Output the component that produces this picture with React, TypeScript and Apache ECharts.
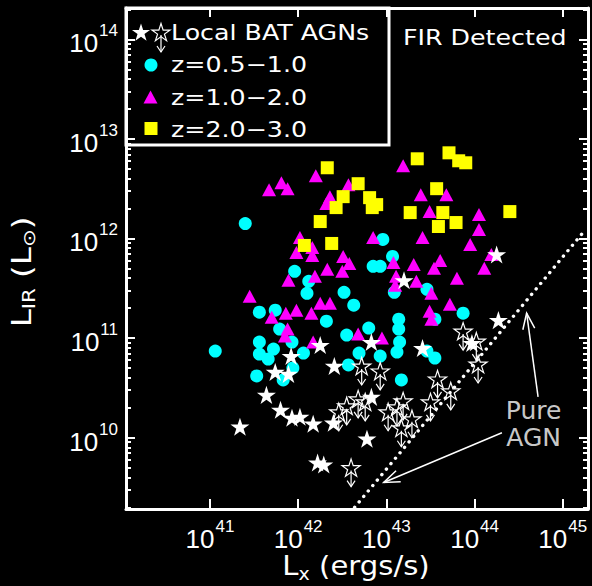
import React, { useEffect, useRef } from "react";
import * as echarts from "echarts";

// All values are log10 luminosities: [log Lx (erg/s), log LIR (Lsun)]
const z05to10: [number, number][] = [
  [41.40, 12.15], [41.96, 11.67], [42.12, 11.57], [42.10, 11.45], [42.52, 11.46],
  [42.63, 11.33], [41.56, 11.26], [41.74, 11.28], [42.32, 11.17], [41.79, 11.09],
  [41.56, 10.96], [41.93, 10.96], [41.06, 10.87], [41.56, 10.84], [41.72, 10.89],
  [41.66, 10.79], [42.06, 10.85], [41.94, 10.70], [41.53, 10.62], [41.83, 10.58],
  [42.55, 11.03], [42.57, 10.73], [42.69, 10.85], [42.96, 11.99], [43.07, 11.82],
  [42.85, 11.72], [42.93, 11.72], [43.46, 11.49], [43.09, 11.46], [43.87, 11.25],
  [43.14, 11.19], [43.14, 11.09], [42.80, 11.10], [43.15, 10.96], [43.12, 10.86],
  [42.93, 10.82], [43.17, 10.58], [43.46, 10.87], [43.55, 10.80], [43.55, 11.19],
];

const z10to20: [number, number][] = [
  [41.67, 12.49], [41.81, 12.56], [41.88, 12.50], [42.20, 12.63], [42.57, 12.54],
  [42.36, 12.42], [42.32, 12.35], [42.02, 12.01], [41.98, 11.86], [42.16, 11.91],
  [42.16, 11.83], [42.51, 11.82], [42.58, 11.75], [42.33, 11.69], [42.50, 11.67],
  [42.19, 11.62], [41.89, 11.58], [41.45, 11.42], [42.25, 11.35], [42.36, 11.35],
  [41.98, 11.28], [41.86, 11.25], [42.15, 11.25], [41.70, 11.21], [41.88, 11.09],
  [41.85, 11.02], [42.17, 10.96], [43.19, 12.73], [43.39, 12.44], [43.68, 12.44],
  [43.49, 12.27], [44.05, 12.24], [44.05, 12.09], [43.95, 11.94], [43.41, 12.01],
  [42.85, 12.01], [43.08, 11.76], [43.31, 11.74], [43.61, 11.78], [43.54, 11.70],
  [44.11, 11.70], [43.80, 11.60], [43.34, 11.57], [43.11, 11.62], [43.10, 11.53],
  [43.51, 11.45], [43.72, 11.34], [43.49, 11.27], [43.51, 11.19], [44.19, 11.84],
  [42.68, 11.04], [42.95, 11.00],
];

const z20to30: [number, number][] = [
  [42.33, 12.71], [42.68, 12.55], [42.51, 12.42], [42.81, 12.41], [42.89, 12.34],
  [42.84, 12.31], [42.43, 12.31], [42.25, 12.17], [42.38, 11.95], [42.07, 11.93],
  [43.35, 12.80], [43.71, 12.86], [43.82, 12.78], [43.90, 12.76], [43.57, 12.50],
  [43.27, 12.26], [43.64, 12.26], [43.79, 12.16], [43.59, 12.12], [44.40, 12.27],
];

const batDetected: [number, number][] = [
  [42.25, 10.93], [41.92, 10.82], [42.41, 10.72], [41.74, 10.66], [41.89, 10.64],
  [41.64, 10.43], [41.80, 10.28], [41.93, 10.20], [42.02, 10.21], [42.17, 10.14],
  [42.40, 10.15], [41.34, 10.11], [42.22, 9.75], [42.29, 9.73], [42.83, 10.96],
  [43.41, 10.90], [42.78, 9.99], [44.27, 11.18], [44.25, 11.84], [43.20, 11.58],
  [42.83, 10.41], [43.97, 10.95],
];

const batUpperLimits: [number, number][] = [
  [43.87, 11.06], [44.02, 10.96], [44.04, 10.73], [43.58, 10.58], [43.73, 10.46],
  [43.50, 10.35], [43.19, 10.36], [43.12, 10.30], [43.02, 10.25], [43.29, 10.18],
  [43.17, 10.09], [42.55, 10.31], [42.46, 10.25], [42.72, 10.71], [42.93, 10.66],
  [42.68, 10.38], [42.76, 10.35], [42.60, 9.69],
];

// Pure-AGN relation (dotted) and its annotation arrows [x0, y0, x1(tip), y1(tip)]
const pureAgnLine: [number, number][] = [[42.64, 9.30], [45.23, 12.06]];
const pureAgnArrows: [number, number, number, number][] = [
  [44.72, 10.41, 44.59, 11.25],
  [44.31, 10.05, 42.97, 9.55],
];
const pureAgnLabelAt: [number, number][] = [[44.67, 10.14]];

const xTickExponents = [41, 42, 43, 44, 45];
const yTickExponents = [10, 11, 12, 13, 14];

const X_MIN = 40.048;
const X_MAX = 45.286;
const Y_MIN = 9.284;
const Y_MAX = 14.314;

const WHITE = "#ffffff";
const TEXT_FONT = "'DejaVu Sans', sans-serif";
const NUM_FONT = "'Liberation Sans', Arial, sans-serif";

function starPoints(cx: number, cy: number, R: number): number[][] {
  const r = R * 0.382;
  const pts: number[][] = [];
  for (let i = 0; i < 10; i++) {
    const rad = i % 2 === 0 ? R : r;
    const a = -Math.PI / 2 + (i * Math.PI) / 5;
    pts.push([cx + rad * Math.cos(a), cy + rad * Math.sin(a)]);
  }
  return pts;
}

const starPath =
  "path://" +
  starPoints(50, 50, 50)
    .map((p, i) => `${i === 0 ? "M" : "L"}${p[0].toFixed(2)},${p[1].toFixed(2)}`)
    .join(" ") +
  " Z";

// Open star with a downward arrow (upper limit), drawn around a pixel point
function upperLimitGlyph(cx: number, cy: number, R: number, arrowLen: number) {
  const lw = 1.2;
  return [
    {
      type: "polygon",
      shape: { points: starPoints(cx, cy, R) },
      style: { fill: "none", stroke: WHITE, lineWidth: lw },
    },
    {
      type: "line",
      shape: { x1: cx, y1: cy + 2, x2: cx, y2: cy + arrowLen },
      style: { stroke: WHITE, lineWidth: lw },
    },
    {
      type: "polyline",
      shape: {
        points: [
          [cx - 4, cy + arrowLen - 6],
          [cx, cy + arrowLen],
          [cx + 4, cy + arrowLen - 6],
        ],
      },
      style: { fill: "none", stroke: WHITE, lineWidth: lw },
    },
  ];
}

function minorTickValues(lo: number, hi: number): number[] {
  const out: number[] = [];
  for (let d = Math.floor(lo); d <= Math.ceil(hi); d++) {
    for (let k = 2; k <= 9; k++) {
      const v = d + Math.log10(k);
      if (v > lo && v < hi) out.push(v);
    }
  }
  return out;
}

const labelRich = {
  b: { fontFamily: NUM_FONT, fontSize: 26, color: WHITE, lineHeight: 34, verticalAlign: "bottom" },
  e: { fontFamily: NUM_FONT, fontSize: 17, color: WHITE, lineHeight: 17, verticalAlign: "top", padding: [0, 0, 0, 1] },
};
const powerLabel = (v: number) => `{b|10}{e|${Math.round(v)}}`;

const frameLine = { show: true, onZero: false, lineStyle: { color: WHITE, width: 3 } };

function buildOption() {
  const yMinor = minorTickValues(Y_MIN, Y_MAX);
  const majorTick = (len: number, values: number[]) => ({
    show: true,
    inside: true,
    length: len,
    lineStyle: { color: WHITE, width: 2 },
    customValues: values,
  });

  return {
    animation: false,
    backgroundColor: "#000000",
    grid: {
      left: 126,
      right: 4,
      top: 8,
      bottom: 77,
      containLabel: false,
      outerBoundsMode: "none",
    },
    xAxis: [
      {
        type: "value",
        position: "bottom",
        min: X_MIN,
        max: X_MAX,
        axisLine: frameLine,
        splitLine: { show: false },
        axisTick: majorTick(10, xTickExponents),
        axisLabel: {
          show: true,
          customValues: xTickExponents,
          formatter: powerLabel,
          rich: labelRich,
          margin: 9,
        },
      },
      {
        type: "value",
        position: "top",
        min: X_MIN,
        max: X_MAX,
        axisLine: frameLine,
        splitLine: { show: false },
        axisTick: majorTick(9, xTickExponents),
        axisLabel: { show: false },
      },
    ],
    yAxis: [
      {
        type: "value",
        position: "left",
        min: Y_MIN,
        max: Y_MAX,
        axisLine: frameLine,
        splitLine: { show: false },
        axisTick: majorTick(9, yTickExponents),
        axisLabel: {
          show: true,
          customValues: yTickExponents,
          formatter: powerLabel,
          rich: labelRich,
          margin: 8,
        },
      },
      {
        type: "value",
        position: "right",
        min: Y_MIN,
        max: Y_MAX,
        axisLine: frameLine,
        splitLine: { show: false },
        axisTick: majorTick(9, yTickExponents),
        axisLabel: { show: false },
      },
      {
        type: "value",
        position: "left",
        min: Y_MIN,
        max: Y_MAX,
        axisLine: { show: false },
        splitLine: { show: false },
        axisTick: majorTick(5, yMinor),
        axisLabel: { show: false },
      },
      {
        type: "value",
        position: "right",
        min: Y_MIN,
        max: Y_MAX,
        axisLine: { show: false },
        splitLine: { show: false },
        axisTick: majorTick(5, yMinor),
        axisLabel: { show: false },
      },
    ],
    series: [
      {
        name: "Pure AGN",
        type: "line",
        data: pureAgnLine,
        symbol: "none",
        silent: true,
        lineStyle: { color: WHITE, width: 3.4, type: [0.1, 7], cap: "round" },
        z: 1,
      },
      {
        name: "z=0.5-1.0",
        type: "scatter",
        data: z05to10,
        symbol: "circle",
        symbolSize: 13,
        itemStyle: { color: "#00ffff", opacity: 1 },
        z: 2,
      },
      {
        name: "z=1.0-2.0",
        type: "scatter",
        data: z10to20,
        symbol: "triangle",
        symbolSize: [14, 13],
        itemStyle: { color: "#ff00ff", opacity: 1 },
        z: 3,
      },
      {
        name: "z=2.0-3.0",
        type: "scatter",
        data: z20to30,
        symbol: "rect",
        symbolSize: 13,
        itemStyle: { color: "#ffff00", opacity: 1 },
        z: 4,
      },
      {
        name: "Local BAT AGNs",
        type: "scatter",
        data: batDetected,
        symbol: starPath,
        symbolKeepAspect: true,
        symbolSize: 19,
        itemStyle: { color: WHITE, opacity: 1 },
        z: 5,
      },
      {
        name: "Local BAT AGNs (limits)",
        type: "custom",
        data: batUpperLimits,
        silent: true,
        z: 6,
        renderItem: (_params: any, api: any) => {
          const p = api.coord([api.value(0), api.value(1)]);
          return { type: "group", children: upperLimitGlyph(p[0], p[1], 9.5, 18) };
        },
      },
      {
        name: "Pure AGN arrows",
        type: "custom",
        data: pureAgnArrows,
        silent: true,
        z: 7,
        renderItem: (_params: any, api: any) => {
          const a = api.coord([api.value(0), api.value(1)]);
          const b = api.coord([api.value(2), api.value(3)]);
          const ang = Math.atan2(a[1] - b[1], a[0] - b[0]);
          const L = 17;
          const spread = 0.36;
          const p1 = [b[0] + L * Math.cos(ang + spread), b[1] + L * Math.sin(ang + spread)];
          const p2 = [b[0] + L * Math.cos(ang - spread), b[1] + L * Math.sin(ang - spread)];
          return {
            type: "group",
            children: [
              { type: "line", shape: { x1: a[0], y1: a[1], x2: b[0], y2: b[1] }, style: { stroke: WHITE, lineWidth: 1.5 } },
              { type: "polyline", shape: { points: [p1, b, p2] }, style: { stroke: WHITE, lineWidth: 1.5, fill: "none" } },
            ],
          };
        },
      },
      {
        name: "Pure AGN label",
        type: "scatter",
        data: pureAgnLabelAt,
        symbolSize: 0,
        silent: true,
        z: 8,
        label: {
          show: true,
          position: "inside",
          formatter: "Pure\nAGN",
          color: WHITE,
          fontFamily: TEXT_FONT,
          fontSize: 25,
          lineHeight: 27,
          align: "center",
        },
      },
    ],
    graphic: [
      // legend frame
      {
        type: "rect",
        shape: { x: 126, y: 8, width: 263, height: 137 },
        style: { fill: "none", stroke: WHITE, lineWidth: 3 },
        z: 100,
      },
      {
        type: "polygon",
        shape: { points: starPoints(141, 33, 9.5) },
        style: { fill: WHITE },
        z: 100,
      },
      {
        type: "group",
        z: 100,
        children: upperLimitGlyph(161, 33, 9.5, 19),
      },
      {
        type: "circle",
        shape: { cx: 151, cy: 65, r: 6.5 },
        style: { fill: "#00ffff" },
        z: 100,
      },
      {
        type: "polygon",
        shape: { points: [[150.5, 90.5], [157.5, 103.5], [143.5, 103.5]] },
        style: { fill: "#ff00ff" },
        z: 100,
      },
      {
        type: "rect",
        shape: { x: 144.5, y: 122, width: 13, height: 13 },
        style: { fill: "#ffff00" },
        z: 100,
      },
      ...[
        { t: "Local BAT AGNs", y: 33 },
        { t: "z=0.5\u22121.0", y: 65 },
        { t: "z=1.0\u22122.0", y: 98 },
        { t: "z=2.0\u22123.0", y: 130 },
      ].map((row) => ({
        type: "text",
        x: 171,
        y: row.y,
        scaleX: 1.15,
        z: 100,
        style: {
          text: row.t,
          fill: WHITE,
          fontFamily: TEXT_FONT,
          fontSize: 22,
          align: "left",
          verticalAlign: "middle",
        },
      })),
      {
        type: "text",
        x: 403,
        y: 38,
        scaleX: 1.15,
        z: 100,
        style: {
          text: "FIR Detected",
          fill: WHITE,
          fontFamily: TEXT_FONT,
          fontSize: 22,
          align: "left",
          verticalAlign: "middle",
        },
      },
      // axis titles
      {
        type: "text",
        x: 356,
        y: 566,
        scaleX: 1.12,
        z: 100,
        style: {
          text: "{l|L}{s|x}{l| (ergs/s)}",
          align: "center",
          verticalAlign: "middle",
          rich: {
            l: { fontFamily: TEXT_FONT, fontSize: 26, lineHeight: 32, fill: WHITE, verticalAlign: "middle" },
            s: { fontFamily: TEXT_FONT, fontSize: 17, lineHeight: 17, fill: WHITE, verticalAlign: "bottom" },
          },
        },
      },
      {
        type: "text",
        x: 22,
        y: 272,
        rotation: Math.PI / 2,
        scaleX: 1.25,
        z: 100,
        style: {
          text: "{l|L}{s|IR}{l| (L}{s|\u2299}{l|)}",
          align: "center",
          verticalAlign: "middle",
          rich: {
            l: { fontFamily: TEXT_FONT, fontSize: 26, lineHeight: 32, fill: WHITE, verticalAlign: "middle" },
            s: { fontFamily: TEXT_FONT, fontSize: 17, lineHeight: 17, fill: WHITE, verticalAlign: "bottom" },
          },
        },
      },
    ],
  };
}

export default function App() {
  const ref = useRef<HTMLDivElement>(null);

  useEffect(() => {
    document.body.style.margin = "0";
    document.body.style.background = "#000";
    if (!ref.current) return;
    const chart = echarts.init(ref.current, undefined, { renderer: "svg" });
    chart.setOption(buildOption() as any);
    return () => chart.dispose();
  }, []);

  return <div ref={ref} style={{ width: 592, height: 586, background: "#000" }} />;
}
